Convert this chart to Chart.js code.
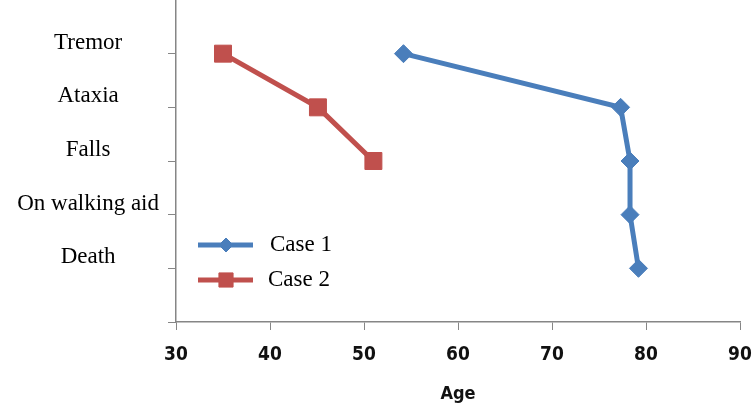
<!DOCTYPE html>
<html>
<head>
<meta charset="utf-8">
<script src="https://cdn.jsdelivr.net/npm/chart.js@4/dist/chart.umd.min.js"></script>
<style>
    html, body { margin: 0; padding: 0; background: #fff; }
    #wrap { width: 752px; height: 407px; position: relative; }
</style>
</head>
<body>
<div id="wrap"><canvas id="stageChart"></canvas></div>
<script>
// Disease stages, top to bottom on the y axis
const stages = ['Tremor', 'Ataxia', 'Falls', 'On walking aid', 'Death'];
// Age at which each stage was reached
const case1Ages = [54.2, 77.3, 78.3, 78.3, 79.2];
const case2Ages = [35.0, 45.1, 51.0];
const ageTicks = [30, 40, 50, 60, 70, 80, 90];

const seriesNames = ['Case 1', 'Case 2'];
const blue = '#4a7ebb';
const red = '#c0504d';
const axisGrey = '#868686';

// stage index -> level on the y scale (Tremor highest)
function stageLevel(i) {
    return stages.length - i;
}

function toPoints(ages) {
    return ages.map((age, i) => ({ x: age, y: stageLevel(i) }));
}

// Legend drawn inside the plot, lower left, like the original
const insideLegend = {
    id: 'insideLegend',
    afterDraw(chart) {
        const ctx = chart.ctx;
        const left = chart.chartArea.left + 22;
        const rows = [245, 280];
        const radii = [7, 10];
        chart.data.datasets.forEach((ds, i) => {
            const y = rows[i];
            ctx.save();
            ctx.strokeStyle = ds.borderColor;
            ctx.lineWidth = ds.borderWidth;
            ctx.beginPath();
            ctx.moveTo(left, y);
            ctx.lineTo(left + 55, y);
            ctx.stroke();
            ctx.fillStyle = ds.backgroundColor;
            ctx.lineWidth = 1;
            Chart.helpers.drawPoint(ctx, {
                pointStyle: ds.pointStyle,
                radius: radii[i],
                borderWidth: 1,
                rotation: 0
            }, left + 28, y);
            ctx.fillStyle = '#000';
            ctx.font = '23px "Liberation Serif", "Times New Roman", serif';
            ctx.textBaseline = 'middle';
            ctx.textAlign = 'left';
            ctx.fillText(ds.label, left + 72 - i * 2, y);
            ctx.restore();
        });
    }
};

const canvas = document.getElementById('stageChart');
canvas.width = 752;
canvas.height = 407;

canvas.chart = new Chart(canvas.getContext('2d'), {
    type: 'line',
    data: {
        datasets: [{
            label: seriesNames[0],
            data: toPoints(case1Ages),
            borderColor: blue,
            backgroundColor: blue,
            borderWidth: 5,
            pointStyle: 'rectRot',
            pointRadius: 9,
            pointBorderWidth: 1,
            pointBackgroundColor: blue,
            pointBorderColor: blue,
            tension: 0
        }, {
            label: seriesNames[1],
            data: toPoints(case2Ages),
            borderColor: red,
            backgroundColor: red,
            borderWidth: 5,
            pointStyle: 'rect',
            pointRadius: 12,
            pointBorderWidth: 1,
            pointBackgroundColor: red,
            pointBorderColor: red,
            tension: 0
        }]
    },
    plugins: [insideLegend],
    options: {
        responsive: false,
        animation: false,
        layout: { autoPadding: false, padding: { left: 0, right: 12, top: 0, bottom: 0 } },
        plugins: {
            legend: { display: false },
            tooltip: { enabled: false }
        },
        scales: {
            x: {
                type: 'linear',
                min: 30,
                max: 90,
                afterBuildTicks: (scale) => {
                    scale.ticks = ageTicks.map(v => ({ value: v }));
                },
                afterFit: (scale) => {
                    scale.height = 85;
                    scale.paddingLeft = 0;
                    scale.paddingRight = 0;
                },
                grid: { drawOnChartArea: false, color: axisGrey, tickLength: 8 },
                border: { color: axisGrey, width: 1.5 },
                ticks: {
                    color: '#111',
                    padding: 14,
                    maxRotation: 0,
                    font: { family: '"Liberation Sans Narrow", "DejaVu Sans Condensed", sans-serif', size: 19, weight: 'bold' }
                },
                title: {
                    display: true,
                    text: 'Age',
                    color: '#111',
                    padding: { top: 0, bottom: 2 },
                    font: { family: '"Liberation Sans Narrow", "DejaVu Sans Condensed", sans-serif', size: 18, weight: 'bold' }
                }
            },
            y: {
                type: 'linear',
                min: 0,
                max: stages.length + 1,
                afterBuildTicks: (scale) => {
                    scale.ticks = [0, 1, 2, 3, 4, 5].map(v => ({ value: v }));
                },
                afterFit: (scale) => {
                    scale.width = 176;
                    scale.paddingTop = 0;
                    scale.paddingBottom = 0;
                },
                grid: { drawOnChartArea: false, color: axisGrey, tickLength: 8 },
                border: { color: axisGrey, width: 1.5 },
                ticks: {
                    color: '#000',
                    padding: 9,
                    crossAlign: 'center',
                    labelOffset: -11,
                    font: { family: '"Liberation Serif", "Times New Roman", serif', size: 23 },
                    callback: function (value) {
                        const i = stages.length - value;
                        return (i >= 0 && i < stages.length) ? stages[i] : '';
                    }
                }
            }
        }
    }
});
</script>
</body>
</html>
